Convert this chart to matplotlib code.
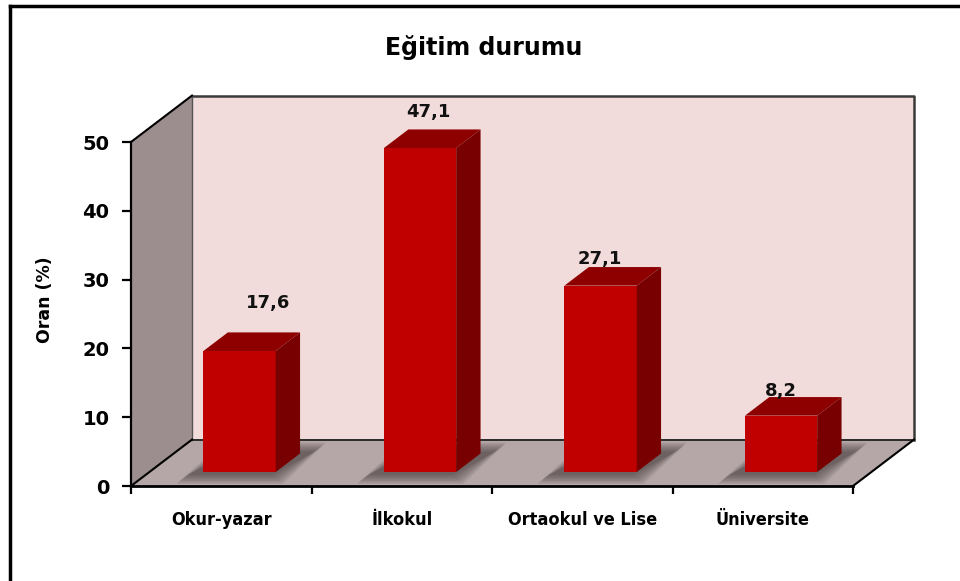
import matplotlib
matplotlib.use("Agg")
import matplotlib.pyplot as plt
from matplotlib.patches import Polygon
from matplotlib.lines import Line2D

categories = ["Okur-yazar", "İlkokul", "Ortaokul ve Lise", "Üniversite"]
values = [17.6, 47.1, 27.1, 8.2]
value_labels = ["17,6", "47,1", "27,1", "8,2"]
y_ticks = [0, 10, 20, 30, 40, 50]
title = "Eğitim durumu"
ylabel = "Oran (%)"

# style / geometry (not data)
W, H = 960, 581
DDX, DDY = 0.338, 6.75        # depth offset of back wall in data units
F0, F1 = 0.30, 0.70           # bar front/back depth fractions
BAR_W = 0.40
label_off_px = [(16, -39), (-4, -27), (-13, -17), (-12, -15)]

C_FRONT = "#C00000"
C_TOP = "#8E0000"
C_SIDE = "#780000"
C_BACK = "#F2DCDB"
C_SIDEWALL = "#9C8E8E"
C_FLOOR = "#B5A7A7"

plt.rcParams['font.family'] = ['DejaVu Sans']

fig = plt.figure(figsize=(W / 100, H / 100), dpi=100)
ax = fig.add_axes([131 / W, 1 - 486 / H, 722 / W, 344 / H])
n = len(categories)
ymax = max(y_ticks)
ax.set_xlim(0, n)
ax.set_ylim(0, ymax)
ax.patch.set_alpha(0)


def poly(pts, fc, ec="none", lw=0, z=1, alpha=1.0):
    p = Polygon(pts, closed=True, facecolor=fc, edgecolor=ec, linewidth=lw,
                zorder=z, clip_on=False, alpha=alpha)
    ax.add_patch(p)


def line(xs, ys, c="black", lw=1.5, z=3):
    ax.add_line(Line2D(xs, ys, color=c, linewidth=lw, zorder=z, clip_on=False))


# walls and floor
poly([(DDX, DDY), (n + DDX, DDY), (n + DDX, ymax + DDY), (DDX, ymax + DDY)], C_BACK, z=0.5)
poly([(0, 0), (0, ymax), (DDX, ymax + DDY), (DDX, DDY)], C_SIDEWALL, z=0.6)
poly([(0, 0), (n, 0), (n + DDX, DDY), (DDX, DDY)], C_FLOOR, z=0.7)

# wall edges
line([DDX, n + DDX, n + DDX], [ymax + DDY, ymax + DDY, DDY], c="#3a3a3a", lw=1.8, z=0.8)
line([DDX, DDX], [DDY, ymax + DDY], c="#555555", lw=1.0, z=0.8)
line([0, DDX], [ymax, ymax + DDY], c="black", lw=1.5, z=0.8)
line([DDX, n + DDX], [DDY, DDY], c="#2a2a2a", lw=1.4, z=0.8)
line([0, DDX], [0, DDY], c="black", lw=1.5, z=0.8)
line([n, n + DDX], [0, DDY], c="black", lw=1.5, z=0.8)

# shadows on floor (soft, layered)
for i, v in enumerate(values):
    c = i + 0.5
    x0 = c - BAR_W / 2
    x1 = c + BAR_W / 2
    for k in range(7):
        g = 0.010 * k
        gy = 0.22 * k
        fa = F0 - 0.06
        fb = F1 + 0.04
        pts = [(x0 - 0.07 - g + fa * DDX, fa * DDY - gy),
               (x1 + 0.00 + g + fa * DDX, fa * DDY - gy),
               (x1 + 0.07 + g + fb * DDX, fb * DDY + gy),
               (x0 + 0.02 - g + fb * DDX, fb * DDY + gy)]
        poly(pts, "#3a3030", z=0.9, alpha=0.11)

# 3D bars
for i, v in enumerate(values):
    c = i + 0.5
    x0 = c - BAR_W / 2
    x1 = c + BAR_W / 2
    fx0, fy0 = F0 * DDX, F0 * DDY
    bx0, by0 = F1 * DDX, F1 * DDY
    # front
    poly([(x0 + fx0, fy0), (x1 + fx0, fy0), (x1 + fx0, v + fy0), (x0 + fx0, v + fy0)], C_FRONT, z=2)
    # top
    poly([(x0 + fx0, v + fy0), (x1 + fx0, v + fy0), (x1 + bx0, v + by0), (x0 + bx0, v + by0)], C_TOP, z=2)
    # side
    poly([(x1 + fx0, fy0), (x1 + bx0, by0), (x1 + bx0, v + by0), (x1 + fx0, v + fy0)], C_SIDE, z=2)
    # value label
    ax_, ay_ = c + 0.5 * DDX, v + 0.5 * DDY
    dx, dy = label_off_px[i]
    ax.annotate(value_labels[i], (ax_, ay_), xytext=(dx * 0.72, -dy * 0.72),
                textcoords="offset points", ha="center", va="center",
                fontsize=13, fontweight="bold", color="#111111", zorder=5,
                annotation_clip=False)

# axes
for s in ["top", "right"]:
    ax.spines[s].set_visible(False)
ax.spines["left"].set_linewidth(1.6)
ax.spines["bottom"].set_linewidth(2.0)
ax.spines["left"].set_zorder(3)
ax.spines["bottom"].set_zorder(3)
ax.set_yticks(y_ticks)
ax.set_yticklabels([str(t) for t in y_ticks])
ax.tick_params(axis="y", direction="out", length=6.5, width=1.6, pad=9,
               labelsize=14)
for t in ax.get_yticklabels():
    t.set_fontweight("bold")
ax.set_xticks(range(n + 1))
ax.set_xticklabels([""] * (n + 1))
ax.tick_params(axis="x", which="major", direction="out", length=6, width=1.6)
ax.set_xticks([i + 0.5 for i in range(n)], minor=True)
ax.set_xticklabels(categories, minor=True)
ax.tick_params(axis="x", which="minor", length=0, pad=18)
for t in ax.get_xticklabels(minor=True):
    t.set_fontweight("bold")
    t.set_fontsize(13)
    t.set_fontstretch("condensed")

fig.text(45 / W, 1 - 300 / H, ylabel, rotation=90, ha="center", va="center",
         fontsize=12.5, fontweight="bold")
fig.text(484 / W, 1 - 47 / H, title, ha="center", va="center",
         fontsize=17, fontweight="bold")

# outer frame (left and top)
fig.add_artist(Line2D([10 / W, 10 / W], [0, 1 - 6 / H], color="black", lw=2.5,
                      transform=fig.transFigure))
fig.add_artist(Line2D([10 / W, 1], [1 - 6 / H, 1 - 6 / H], color="black", lw=2.5,
                      transform=fig.transFigure))

fig.savefig("out.png", dpi=100)
